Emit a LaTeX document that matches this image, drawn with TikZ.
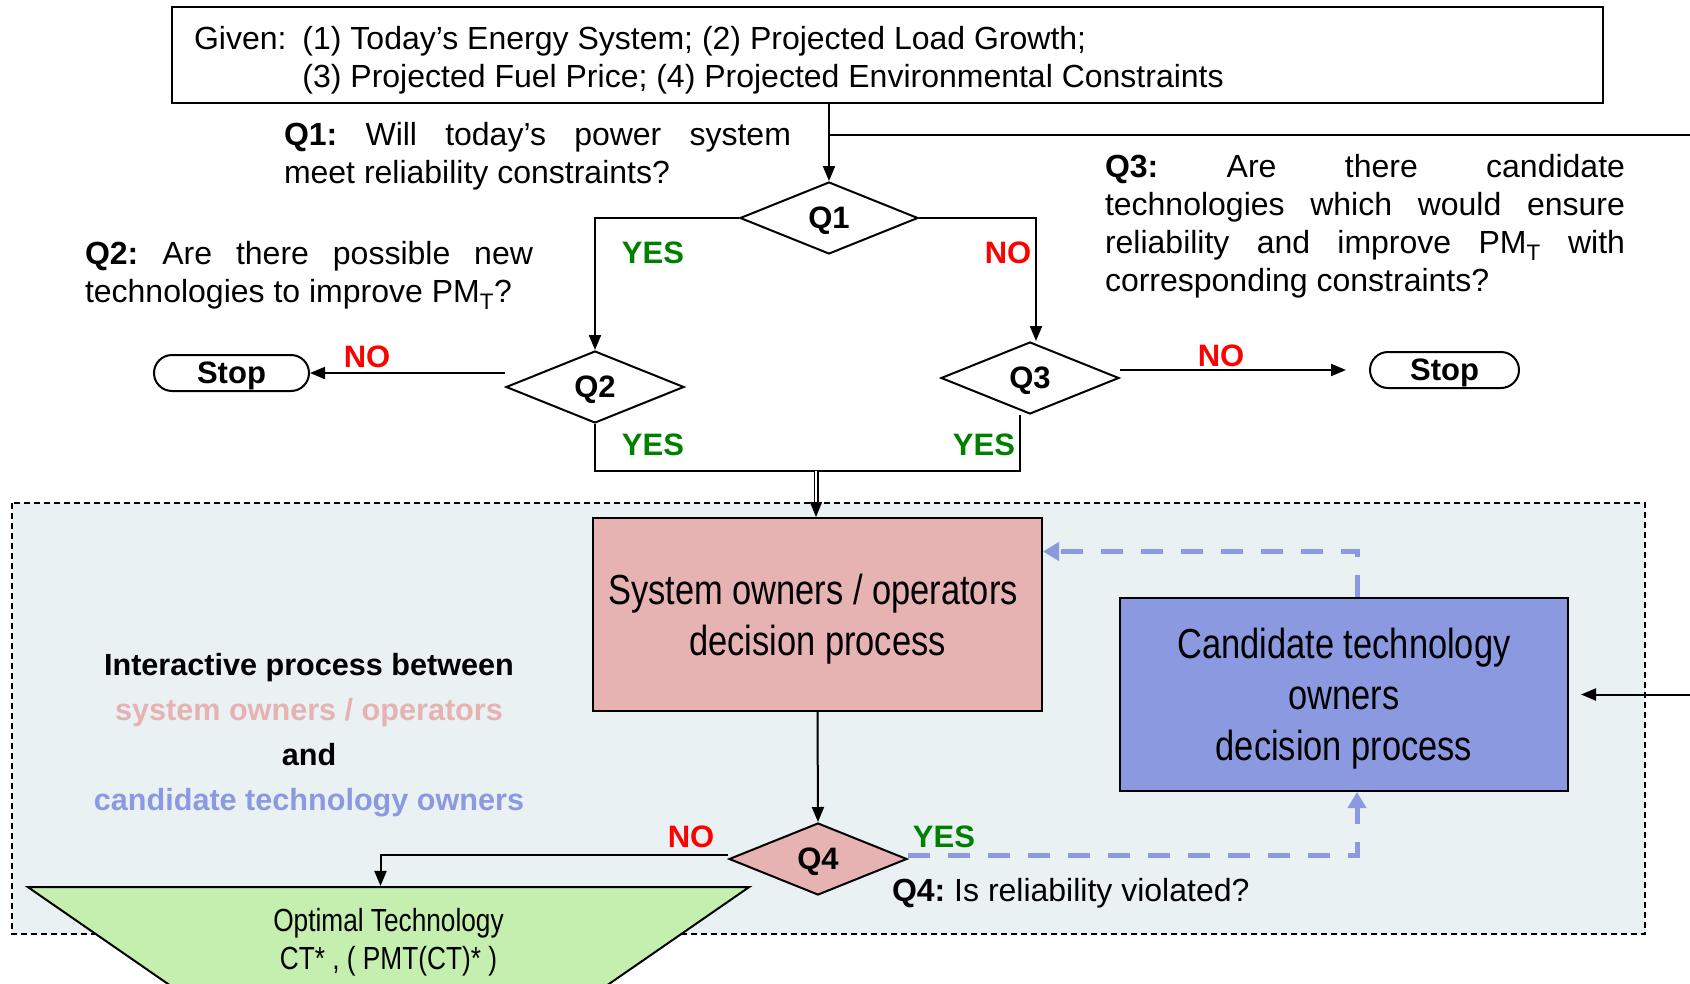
\documentclass[tikz,border=0pt]{standalone}
\usepackage{fontspec}
\setmainfont{Liberation Sans}
\newfontfamily\narrowfont[FakeStretch=0.82]{Liberation Sans}
\usepackage{tikz}
\usetikzlibrary{
  arrows.meta,
  positioning,
  shapes.geometric
}
\usepackage{xcolor}
\definecolor{ownpink}{HTML}{E6B2B2}
\definecolor{techblue}{HTML}{8B9AE0}
\definecolor{optgreen}{HTML}{C5EFAE}
\definecolor{zonefill}{HTML}{E9F1F3}
\definecolor{yesgreen}{HTML}{008000}
\definecolor{nored}{HTML}{FF0000}
\newcommand{\qfont}{\fontsize{32}{38}\selectfont}
\newcommand{\tagfont}{\fontsize{31}{38}\selectfont\bfseries}
\newcommand{\bigfont}{\narrowfont\fontsize{42}{51}\selectfont}
\newcommand{\optfont}{\narrowfont\fontsize{32}{38}\selectfont}
\newcommand{\sidefont}{\fontsize{30.6}{45}\selectfont\bfseries}
\frenchspacing

\begin{document}
\begin{tikzpicture}[
  x=1pt, y=-1pt, line width=2pt,
  arrow/.style={-{Triangle[length=15pt, width=12pt]}},
  decision/.style={draw, diamond, aspect=2.5, inner sep=0pt, minimum width=178pt,
    minimum height=72pt, text depth=0pt, font=\tagfont},
  stopbox/.style={draw, rounded corners=18pt, minimum height=36pt, inner sep=0pt,
    text depth=0pt, font=\tagfont},
  procbox/.style={draw, inner sep=0pt, align=center, text depth=-4pt, font=\bigfont},
  yes/.style={font=\tagfont, text=yesgreen, inner sep=0pt},
  no/.style={font=\tagfont, text=nored, inner sep=0pt},
  qtext/.style={anchor=north west, inner sep=0pt, align=justify, font=\qfont},
  feedback/.style={techblue, line width=5pt, dash pattern=on 22pt off 18pt,
    -{Triangle[length=16pt, width=18pt]}}
]
  \useasboundingbox (0,0) rectangle (1690,983);
  \clip (0,0) rectangle (1690,983);

  % --- Interaction zone ---
  \filldraw[fill=zonefill, draw=black, line width=1.5pt, dash pattern=on 6pt off 4pt]
    (12,503) rectangle (1645,934);

  % --- Given data ---
  \node[draw, minimum width=1431pt, minimum height=96pt] (given) at (887.5,55) {};
  \node[anchor=base west, inner sep=0pt, font=\qfont] (giventxt) at (193,49)
    {\begin{tabular}[t]{@{}l@{\hspace{16pt}}l@{}}
      Given: & (1) Today's Energy System; (2) Projected Load Growth;\\
             & (3) Projected Fuel Price; (4) Projected Environmental Constraints
    \end{tabular}};

  % --- Questions ---
  \node[decision] (q1) at (829,218) {Q1};
  \node[decision] (q2) at (595,387) {Q2};
  \node[decision] (q3) at (1030,378) {Q3};
  \node[stopbox, minimum width=155pt] (stopl) at (231.5,373) {Stop};
  \node[stopbox, minimum width=149pt] (stopr) at (1444.5,370) {Stop};

  \node[qtext, text width=507pt] (q1txt) at (283,121)
    {\textbf{Q1:} Will today's power system\linebreak meet reliability constraints?};
  \node[qtext, text width=448pt] (q2txt) at (84,240)
    {\textbf{Q2:} Are there possible new\linebreak technologies to improve PM\textsubscript{T}?};
  \node[qtext, text width=520pt] (q3txt) at (1104,153)
    {\textbf{Q3:} Are there candidate\linebreak technologies which would ensure\linebreak
     reliability and improve PM\textsubscript{T} with\linebreak corresponding constraints?};

  % --- Decision processes ---
  \node[procbox, fill=ownpink, minimum width=449pt, minimum height=193pt] (sysbox)
    at (817.5,614.5) {System owners / operators\hspace*{9pt}\\decision process};
  \node[procbox, fill=techblue, minimum width=448pt, minimum height=193pt, text depth=-9pt]
    (cand) at (1344,694.5) {Candidate technology\\owners\\decision process};
  \node[align=center, font=\sidefont, inner sep=0pt, anchor=north] (sidetxt) at (309,652)
    {Interactive process between\\\textcolor{ownpink}{system owners / operators}\\and\\
     \textcolor{techblue}{candidate technology owners}};

  \node[decision, fill=ownpink] (q4) at (818,859) {Q4};
  \node[anchor=base west, inner sep=0pt, font=\qfont] (q4txt) at (891,901)
    {\textbf{Q4:} Is reliability violated?};

  \node[draw, trapezium, trapezium left angle=36.6, trapezium right angle=36.6,
    shape border rotate=180, trapezium stretches=true, minimum width=725pt,
    minimum height=104pt, fill=optgreen, inner sep=0pt, align=center, text depth=0pt,
    font=\optfont] (opt) at (388.5,939) {Optimal Technology\\CT* , ( PMT(CT)* )};

  % --- Arrows: questions ---
  \coordinate (tap) at (q1.north |- 0,135);
  \coordinate (edge) at (1720,135);
  \coordinate (mrg) at (816,471);
  \draw[arrow] (given.south -| q1.north) -- (q1.north);
  \draw[arrow, shorten >=12pt] (tap) -- (edge) |- (cand.east);
  \draw[arrow] (q1.west) -| (q2.north);
  \draw[arrow] (q1.east) -| ([xshift=6pt]q3.north);
  \draw[arrow] (q2.west |- stopl.east) -- (stopl.east);
  \draw[arrow, shorten >=23pt] (q3.east |- stopr.west) -- (stopr.west);
  \draw (q2.south) |- (mrg) -| ([xshift=-10pt]q3.south);
  \draw[arrow, line width=1.3pt, double, double distance=2.4pt] (mrg) -- (mrg |- sysbox.north);

  \node[yes] (q1yes) at (653,253) {YES};
  \node[no] (q1no) at (1008,253) {NO};
  \node[no] (q2no) at (367,357) {NO};
  \node[no] (q3no) at (1221,356) {NO};
  \node[yes] (q2yes) at (653,445) {YES};
  \node[yes] (q3yes) at (984,445) {YES};

  % --- Arrows: interaction ---
  \draw[arrow] (sysbox.south) -- (q4.north);
  \draw[arrow] ([yshift=4pt]q4.west) -| ([xshift=-8pt]opt.north);
  \draw[feedback] ([yshift=4pt]q4.east) -| ([xshift=13pt]cand.south);
  \draw[feedback] ([xshift=13pt]cand.north) |- ([yshift=63pt]sysbox.east);

  \node[no] (q4no) at (691,837) {NO};
  \node[yes] (q4yes) at (944,837) {YES};
\end{tikzpicture}
\end{document}
